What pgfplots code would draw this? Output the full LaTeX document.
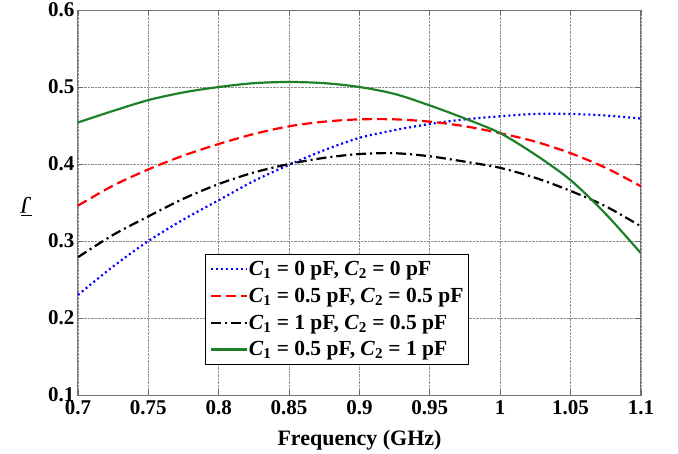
\documentclass[border=0pt]{standalone}
\usepackage{fontspec}
\setmainfont{Liberation Serif}
\usepackage{pgfplots}
\pgfplotsset{compat=1.18}
\definecolor{mgreen}{RGB}{30,128,40}
\newcommand{\Cs}[1]{\textbf{\textit{C}\textsubscript{#1}}}
\begin{document}
\begin{tikzpicture}
\path[use as bounding box] (-78pt,-58pt) rectangle (600pt,395pt);
\begin{axis}[
  at={(0,0)}, anchor=south west,
  scale only axis, width=563pt, height=385pt,
  xmin=0.7, xmax=1.1, ymin=0.1, ymax=0.6,
  xtick={0.7,0.75,...,1.1}, ytick={0.1,0.2,...,0.6},
  xticklabels={0.7,0.75,0.8,0.85,0.9,0.95,1,1.05,1.1},
  yticklabels={0.1,0.2,0.3,0.4,0.5,0.6},
  /pgf/number format/assume math mode=true,
  ticklabel style={font=\fontsize{21}{21}\selectfont\bfseries},
  xticklabel style={yshift=-4pt, inner ysep=1pt},
  yticklabel style={inner ysep=1pt},
  grid=major,
  major grid style={densely dotted, black!45, line width=0.9pt},
  axis line style={black!55, line width=1pt},
  tick style={black!60, line width=0.9pt},
  tick align=inside, major tick length=5pt,
  xlabel={\textbf{Frequency (GHz)}},
  ylabel={\ensuremath{\overline{\mbox{\itshape J}}}},
  xlabel style={font=\fontsize{22}{22}\selectfont, at={(axis description cs:0.5,-0.117)}, anchor=center},
  ylabel style={font=\fontsize{24}{24}\selectfont, at={(axis description cs:-0.092,0.49)}, anchor=center, rotate=90},
  legend style={at={(axis description cs:0.2256,0.078)}, anchor=south west,
    draw=black, line width=1.2pt, font=\fontsize{21.5}{26}\selectfont\bfseries,
    row sep=5pt, inner sep=4pt,
    legend cell align=left,
    nodes={inner xsep=1pt, inner ysep=3pt}},
  legend image code/.code={\draw[#1, line width=2.2pt] (0pt,0pt) -- (36pt,0pt);},
  every axis plot/.append style={line width=2.2pt},
]
\addplot[blue, smooth, dash pattern=on 2pt off 3pt] coordinates {
(0.7,0.230) (0.725,0.267) (0.75,0.300) (0.775,0.328) (0.8,0.353) (0.825,0.378)
(0.85,0.399) (0.875,0.418) (0.9,0.434) (0.925,0.444) (0.95,0.452) (0.975,0.458)
(1.0,0.462) (1.025,0.465) (1.05,0.465) (1.075,0.463) (1.1,0.459)};
\addlegendentry{\Cs{1} = 0 pF, \Cs{2} = 0 pF}
\addplot[red, smooth, dash pattern=on 10pt off 5pt] coordinates {
(0.7,0.346) (0.725,0.372) (0.75,0.393) (0.775,0.411) (0.8,0.426) (0.825,0.439)
(0.85,0.449) (0.875,0.455) (0.9,0.458) (0.925,0.458) (0.95,0.455) (0.975,0.449)
(1.0,0.440) (1.025,0.429) (1.05,0.414) (1.075,0.395) (1.1,0.371)};
\addlegendentry{\Cs{1} = 0.5 pF, \Cs{2} = 0.5 pF}
\addplot[black, smooth, dash pattern=on 10pt off 4pt on 2pt off 4pt] coordinates {
(0.7,0.279) (0.725,0.308) (0.75,0.332) (0.775,0.355) (0.8,0.374) (0.825,0.389)
(0.85,0.400) (0.875,0.408) (0.9,0.413) (0.925,0.414) (0.95,0.410) (0.975,0.403)
(1.0,0.395) (1.025,0.382) (1.05,0.365) (1.075,0.345) (1.1,0.319)};
\addlegendentry{\Cs{1} = 1 pF, \Cs{2} = 0.5 pF}
\addplot[mgreen, smooth, solid] coordinates {
(0.7,0.454) (0.725,0.469) (0.75,0.483) (0.775,0.493) (0.8,0.500) (0.825,0.505)
(0.85,0.5065) (0.875,0.505) (0.9,0.500) (0.925,0.491) (0.95,0.476) (0.975,0.459)
(1.0,0.440) (1.025,0.412) (1.05,0.379) (1.075,0.335) (1.1,0.284)};
\addlegendentry{\Cs{1} = 0.5 pF, \Cs{2} = 1 pF}
\end{axis}
\end{tikzpicture}
\end{document}
